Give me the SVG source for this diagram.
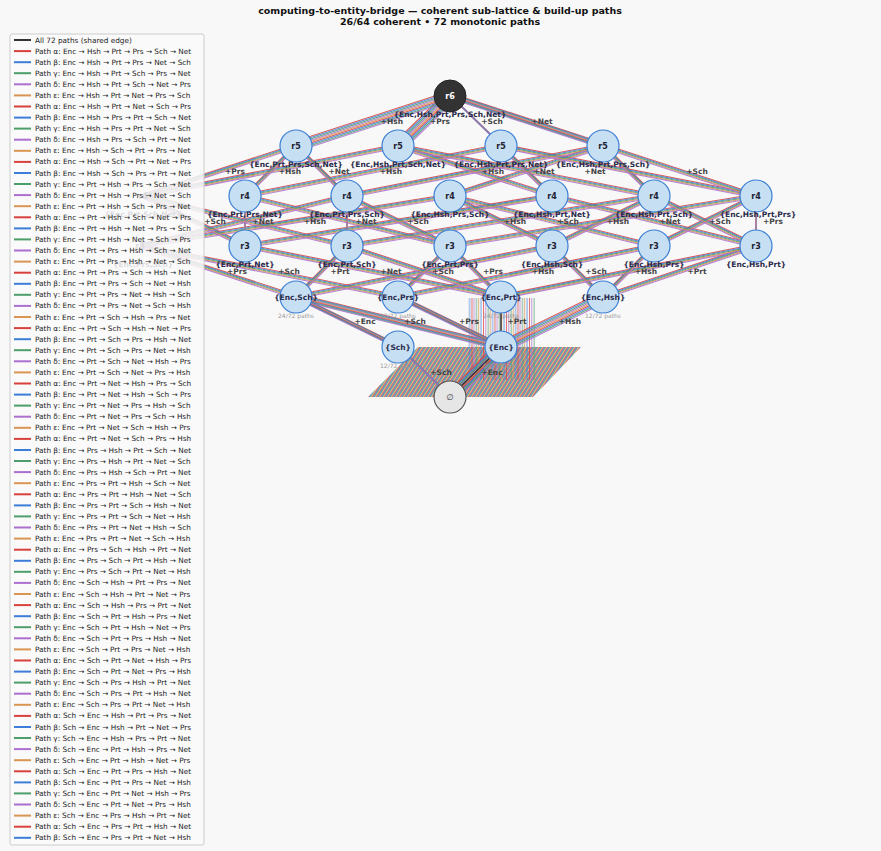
<svg xmlns="http://www.w3.org/2000/svg" xmlns:xlink="http://www.w3.org/1999/xlink" width="881" height="851" viewBox="0 0 881 851">
<style>
text{font-family:"DejaVu Sans","Liberation Sans",sans-serif}
.t{font-size:9.5px;font-weight:bold;fill:#111;text-anchor:middle}
.n{fill:#c7dff2;stroke:#3a7fd5;stroke-width:1.2}
.nl{font-size:8px;font-weight:bold;fill:#223;text-anchor:middle}
.sl{font-size:7.5px;font-weight:bold;fill:#2a2a4a;text-anchor:middle}
.el{font-size:7.5px;font-weight:bold;fill:#444;text-anchor:middle}
.pc{font-size:6px;fill:#999;text-anchor:middle}
.lg{font-size:7.3px;fill:#222}
.a{stroke:#d9413d}.b{stroke:#3b7dd8}.g{stroke:#4c9e6a}.d{stroke:#aa6fcf}.e{stroke:#d99552}.k{stroke:#333}
#E line,#H line{fill:none}
.w1{stroke-width:1.1;opacity:.85}
</style>
<defs>
<pattern id="diag" width="4" height="50" patternUnits="userSpaceOnUse" patternTransform="skewX(-32)">
<rect x="0" width="1" height="50" fill="#d9413d"/><rect x="1" width="1" height="50" fill="#3b7dd8"/><rect x="2" width="1" height="50" fill="#4c9e6a"/><rect x="3" width="1" height="50" fill="#d99552" opacity=".8"/>
</pattern>
<pattern id="vert" width="11.5" height="60" patternUnits="userSpaceOnUse">
<rect x="0" width="0.8" height="60" fill="#d9413d"/><rect x="2.3" width="0.8" height="60" fill="#aa6fcf"/><rect x="4.6" width="0.8" height="60" fill="#4c9e6a"/><rect x="6.9" width="0.8" height="60" fill="#d99552"/><rect x="9.2" width="0.8" height="60" fill="#3b7dd8"/>
</pattern>
<g id="E">
<line x1="245" y1="246" x2="245" y2="196"/><line x1="245" y1="246" x2="552" y2="196"/><line x1="245" y1="246" x2="143" y2="196"/>
<line x1="347" y1="246" x2="347" y2="196"/><line x1="347" y1="246" x2="654" y2="196"/><line x1="347" y1="246" x2="143" y2="196"/>
<line x1="450" y1="246" x2="245" y2="196"/><line x1="450" y1="246" x2="347" y2="196"/><line x1="450" y1="246" x2="756" y2="196"/>
<line x1="552" y1="246" x2="450" y2="196"/><line x1="552" y1="246" x2="654" y2="196"/>
<line x1="654" y1="246" x2="450" y2="196"/><line x1="654" y1="246" x2="756" y2="196"/>
<line x1="756" y1="246" x2="552" y2="196"/><line x1="756" y1="246" x2="654" y2="196"/><line x1="756" y1="246" x2="756" y2="196"/>
<line x1="140" y1="246" x2="347" y2="196"/><line x1="140" y1="246" x2="450" y2="196"/>
<line x1="245" y1="196" x2="296" y2="146"/><line x1="245" y1="196" x2="501" y2="146"/>
<line x1="347" y1="196" x2="296" y2="146"/><line x1="347" y1="196" x2="603" y2="146"/>
<line x1="450" y1="196" x2="603" y2="146"/>
<line x1="552" y1="196" x2="398" y2="146"/><line x1="552" y1="196" x2="501" y2="146"/>
<line x1="654" y1="196" x2="398" y2="146"/><line x1="654" y1="196" x2="603" y2="146"/>
<line x1="756" y1="196" x2="501" y2="146"/><line x1="756" y1="196" x2="603" y2="146"/>
<line x1="143" y1="196" x2="296" y2="146"/><line x1="143" y1="196" x2="398" y2="146"/>
<line x1="296" y1="297" x2="347" y2="246"/><line x1="296" y1="297" x2="552" y2="246"/><line x1="296" y1="297" x2="140" y2="246"/>
<line x1="398" y1="297" x2="450" y2="246"/><line x1="398" y1="297" x2="654" y2="246"/><line x1="398" y1="297" x2="140" y2="246"/>
<line x1="501" y1="297" x2="245" y2="246"/><line x1="501" y1="297" x2="347" y2="246"/><line x1="501" y1="297" x2="450" y2="246"/><line x1="501" y1="297" x2="756" y2="246"/>
<line x1="603" y1="297" x2="552" y2="246"/><line x1="603" y1="297" x2="654" y2="246"/><line x1="603" y1="297" x2="756" y2="246"/>
</g>
<g id="H">
<line x1="450" y1="96" x2="296" y2="146"/><line x1="450" y1="96" x2="398" y2="146"/><line x1="450" y1="96" x2="501" y2="146"/><line x1="450" y1="96" x2="603" y2="146"/>
<line x1="398" y1="347" x2="296" y2="297"/>
<line x1="501" y1="347" x2="296" y2="297"/><line x1="501" y1="347" x2="398" y2="297"/><line x1="501" y1="347" x2="603" y2="297"/>
<line x1="450" y1="397" x2="398" y2="347"/><line x1="450" y1="397" x2="501" y2="347"/>
</g>
</defs>
<rect width="881" height="851" fill="#f8f8f8"/>
<text class="t" x="440" y="14">computing-to-entity-bridge — coherent sub-lattice &amp; build-up paths</text>
<text class="t" x="440" y="25">26/64 coherent  •  72 monotonic paths</text>
<polygon points="418,347 581,347 533,397 368,397" fill="url(#diag)" opacity=".8"/>
<rect x="468" y="298" width="67" height="82" fill="url(#vert)" opacity=".9"/>
<g id="connectors">
<use xlink:href="#E" class="a w1" transform="translate(0,-2)"/>
<use xlink:href="#E" class="b w1" transform="translate(0,-1)"/>
<use xlink:href="#E" class="g w1"/>
<use xlink:href="#E" class="e w1" transform="translate(0,1)"/>
<use xlink:href="#E" class="d w1" transform="translate(0,2)"/>
<use xlink:href="#H" class="a w1" transform="translate(-3,-4)"/>
<use xlink:href="#H" class="b w1" transform="translate(-2,-3)"/>
<use xlink:href="#H" class="g w1" transform="translate(-1,-2)"/>
<use xlink:href="#H" class="d w1" transform="translate(0,-1)"/>
<use xlink:href="#H" class="e w1" transform="translate(1,0)"/>
<use xlink:href="#H" class="a w1" transform="translate(2,1)"/>
<use xlink:href="#H" class="b w1" transform="translate(3,2)"/>
<use xlink:href="#H" class="g w1" transform="translate(4,3)"/>
<use xlink:href="#H" class="d w1" transform="translate(5,4)"/>
<line x1="501" y1="347" x2="501" y2="297" class="k" stroke-width="1.5"/>
<line x1="450" y1="397" x2="501" y2="347" class="k" stroke-width="1.5"/>
</g>
<g id="edge-labels">
<text class="el" x="392" y="124">+Hsh</text><text class="el" x="440" y="124">+Prs</text><text class="el" x="492" y="124">+Sch</text><text class="el" x="542" y="124">+Net</text>
<text class="el" x="235" y="174">+Prs</text><text class="el" x="290" y="174">+Hsh</text><text class="el" x="339" y="174">+Net</text><text class="el" x="391" y="174">+Hsh</text><text class="el" x="493" y="174">+Hsh</text><text class="el" x="544" y="174">+Net</text><text class="el" x="595" y="174">+Net</text><text class="el" x="697" y="174">+Sch</text>
<text class="el" x="215" y="224">+Sch</text><text class="el" x="263" y="224">+Net</text><text class="el" x="315" y="224">+Hsh</text><text class="el" x="366" y="224">+Net</text><text class="el" x="418" y="224">+Sch</text><text class="el" x="515" y="224">+Hsh</text><text class="el" x="568" y="224">+Sch</text><text class="el" x="618" y="224">+Hsh</text><text class="el" x="670" y="224">+Net</text><text class="el" x="720" y="224">+Sch</text><text class="el" x="773" y="224">+Prs</text>
<text class="el" x="237" y="274">+Prs</text><text class="el" x="289" y="274">+Sch</text><text class="el" x="340" y="274">+Prt</text><text class="el" x="391" y="274">+Net</text><text class="el" x="443" y="274">+Sch</text><text class="el" x="493" y="274">+Prs</text><text class="el" x="543" y="274">+Hsh</text><text class="el" x="596" y="274">+Sch</text><text class="el" x="646" y="274">+Hsh</text><text class="el" x="697" y="274">+Prt</text>
<text class="el" x="365" y="324">+Enc</text><text class="el" x="415" y="324">+Sch</text><text class="el" x="469" y="324">+Prs</text><text class="el" x="517" y="324">+Prt</text><text class="el" x="570" y="324">+Hsh</text>
<text class="el" x="441" y="375">+Sch</text><text class="el" x="492" y="375">+Enc</text>
</g>
<g id="hidden-nodes">
<text class="nl" x="143" y="199">r4</text><text class="sl" x="143" y="217">{Enc,Prt,Sch,Net}</text>
<text class="nl" x="140" y="249">r3</text><text class="sl" x="143" y="267">{Enc,Prs,Sch}</text>
</g>
<g id="n-r6"><circle cx="450" cy="96" r="16" fill="#333" stroke="#222"/><text class="nl" x="450" y="99" style="fill:#fff">r6</text><text class="sl" x="450" y="117">{Enc,Hsh,Prt,Prs,Sch,Net}</text></g>
<g id="n-r5a"><circle class="n" cx="296" cy="146" r="16"/><text class="nl" x="296" y="149">r5</text><text class="sl" x="296" y="167">{Enc,Prt,Prs,Sch,Net}</text></g>
<g id="n-r5b"><circle class="n" cx="398" cy="146" r="16"/><text class="nl" x="398" y="149">r5</text><text class="sl" x="398" y="167">{Enc,Hsh,Prt,Sch,Net}</text></g>
<g id="n-r5c"><circle class="n" cx="501" cy="146" r="16"/><text class="nl" x="501" y="149">r5</text><text class="sl" x="501" y="167">{Enc,Hsh,Prt,Prs,Net}</text></g>
<g id="n-r5d"><circle class="n" cx="603" cy="146" r="16"/><text class="nl" x="603" y="149">r5</text><text class="sl" x="603" y="167">{Enc,Hsh,Prt,Prs,Sch}</text></g>
<g id="n-r4a"><circle class="n" cx="245" cy="196" r="16"/><text class="nl" x="245" y="199">r4</text><text class="sl" x="245" y="217">{Enc,Prt,Prs,Net}</text></g>
<g id="n-r4b"><circle class="n" cx="347" cy="196" r="16"/><text class="nl" x="347" y="199">r4</text><text class="sl" x="347" y="217">{Enc,Prt,Prs,Sch}</text></g>
<g id="n-r4c"><circle class="n" cx="450" cy="196" r="16"/><text class="nl" x="450" y="199">r4</text><text class="sl" x="450" y="217">{Enc,Hsh,Prs,Sch}</text></g>
<g id="n-r4d"><circle class="n" cx="552" cy="196" r="16"/><text class="nl" x="552" y="199">r4</text><text class="sl" x="552" y="217">{Enc,Hsh,Prt,Net}</text></g>
<g id="n-r4e"><circle class="n" cx="654" cy="196" r="16"/><text class="nl" x="654" y="199">r4</text><text class="sl" x="654" y="217">{Enc,Hsh,Prt,Sch}</text></g>
<g id="n-r4f"><circle class="n" cx="756" cy="196" r="16"/><text class="nl" x="756" y="199">r4</text><text class="sl" x="758" y="217">{Enc,Hsh,Prt,Prs}</text></g>
<g id="n-r3a"><circle class="n" cx="245" cy="246" r="16"/><text class="nl" x="245" y="249">r3</text><text class="sl" x="245" y="267">{Enc,Prt,Net}</text></g>
<g id="n-r3b"><circle class="n" cx="347" cy="246" r="16"/><text class="nl" x="347" y="249">r3</text><text class="sl" x="347" y="267">{Enc,Prt,Sch}</text></g>
<g id="n-r3c"><circle class="n" cx="450" cy="246" r="16"/><text class="nl" x="450" y="249">r3</text><text class="sl" x="450" y="267">{Enc,Prt,Prs}</text></g>
<g id="n-r3d"><circle class="n" cx="552" cy="246" r="16"/><text class="nl" x="552" y="249">r3</text><text class="sl" x="552" y="267">{Enc,Hsh,Sch}</text></g>
<g id="n-r3e"><circle class="n" cx="654" cy="246" r="16"/><text class="nl" x="654" y="249">r3</text><text class="sl" x="654" y="267">{Enc,Hsh,Prs}</text></g>
<g id="n-r3f"><circle class="n" cx="756" cy="246" r="16"/><text class="nl" x="756" y="249">r3</text><text class="sl" x="756" y="267">{Enc,Hsh,Prt}</text></g>
<g id="n-encsch"><circle class="n" cx="296" cy="297" r="16"/><text class="sl" x="296" y="300">{Enc,Sch}</text><text class="pc" x="296" y="318">24/72 paths</text></g>
<g id="n-encprs"><circle class="n" cx="398" cy="297" r="16"/><text class="sl" x="398" y="300">{Enc,Prs}</text><text class="pc" x="398" y="318">12/72 paths</text></g>
<g id="n-encprt"><circle class="n" cx="501" cy="297" r="16"/><text class="sl" x="501" y="300">{Enc,Prt}</text><text class="pc" x="501" y="318">24/72 paths</text></g>
<g id="n-enchsh"><circle class="n" cx="603" cy="297" r="16"/><text class="sl" x="603" y="300">{Enc,Hsh}</text><text class="pc" x="603" y="318">12/72 paths</text></g>
<g id="n-sch"><circle class="n" cx="398" cy="347" r="16"/><text class="sl" x="398" y="350">{Sch}</text><text class="pc" x="398" y="368">12/72 paths</text></g>
<g id="n-enc"><circle class="n" cx="501" cy="347" r="16"/><text class="sl" x="501" y="350">{Enc}</text><text class="pc" x="501" y="368">60/72 paths</text></g>
<g id="n-empty"><circle cx="450" cy="397" r="16" fill="#e6e6e6" stroke="#555" stroke-width="1.2"/><text class="nl" x="450" y="400" style="font-weight:normal">∅</text></g>
<g id="legend">
<rect x="10" y="34" width="194" height="811" rx="2" fill="#fafafa" fill-opacity=".85" stroke="#ccc"/>
<line x1="14" y1="40" x2="31" y2="40" stroke="#333" stroke-width="2"/><text class="lg" x="35" y="42.5">All 72 paths (shared edge)</text>
<g stroke-width="2">
<line x1="14" x2="31" y1="51.1" y2="51.1" class="a"/><line x1="14" x2="31" y1="62.2" y2="62.2" class="b"/><line x1="14" x2="31" y1="73.2" y2="73.2" class="g"/><line x1="14" x2="31" y1="84.3" y2="84.3" class="d"/><line x1="14" x2="31" y1="95.4" y2="95.4" class="e"/>
<line x1="14" x2="31" y1="106.5" y2="106.5" class="a"/><line x1="14" x2="31" y1="117.6" y2="117.6" class="b"/><line x1="14" x2="31" y1="128.6" y2="128.6" class="g"/><line x1="14" x2="31" y1="139.7" y2="139.7" class="d"/><line x1="14" x2="31" y1="150.8" y2="150.8" class="e"/>
<line x1="14" x2="31" y1="161.9" y2="161.9" class="a"/><line x1="14" x2="31" y1="173" y2="173" class="b"/><line x1="14" x2="31" y1="184" y2="184" class="g"/><line x1="14" x2="31" y1="195.1" y2="195.1" class="d"/><line x1="14" x2="31" y1="206.2" y2="206.2" class="e"/>
<line x1="14" x2="31" y1="217.3" y2="217.3" class="a"/><line x1="14" x2="31" y1="228.4" y2="228.4" class="b"/><line x1="14" x2="31" y1="239.4" y2="239.4" class="g"/><line x1="14" x2="31" y1="250.5" y2="250.5" class="d"/><line x1="14" x2="31" y1="261.6" y2="261.6" class="e"/>
<line x1="14" x2="31" y1="272.7" y2="272.7" class="a"/><line x1="14" x2="31" y1="283.8" y2="283.8" class="b"/><line x1="14" x2="31" y1="294.8" y2="294.8" class="g"/><line x1="14" x2="31" y1="305.9" y2="305.9" class="d"/><line x1="14" x2="31" y1="317" y2="317" class="e"/>
<line x1="14" x2="31" y1="328.1" y2="328.1" class="a"/><line x1="14" x2="31" y1="339.2" y2="339.2" class="b"/><line x1="14" x2="31" y1="350.2" y2="350.2" class="g"/><line x1="14" x2="31" y1="361.3" y2="361.3" class="d"/><line x1="14" x2="31" y1="372.4" y2="372.4" class="e"/>
<line x1="14" x2="31" y1="383.5" y2="383.5" class="a"/><line x1="14" x2="31" y1="394.6" y2="394.6" class="b"/><line x1="14" x2="31" y1="405.6" y2="405.6" class="g"/><line x1="14" x2="31" y1="416.7" y2="416.7" class="d"/><line x1="14" x2="31" y1="427.8" y2="427.8" class="e"/>
<line x1="14" x2="31" y1="438.9" y2="438.9" class="a"/><line x1="14" x2="31" y1="450" y2="450" class="b"/><line x1="14" x2="31" y1="461" y2="461" class="g"/><line x1="14" x2="31" y1="472.1" y2="472.1" class="d"/><line x1="14" x2="31" y1="483.2" y2="483.2" class="e"/>
<line x1="14" x2="31" y1="494.3" y2="494.3" class="a"/><line x1="14" x2="31" y1="505.4" y2="505.4" class="b"/><line x1="14" x2="31" y1="516.4" y2="516.4" class="g"/><line x1="14" x2="31" y1="527.5" y2="527.5" class="d"/><line x1="14" x2="31" y1="538.6" y2="538.6" class="e"/>
<line x1="14" x2="31" y1="549.7" y2="549.7" class="a"/><line x1="14" x2="31" y1="560.8" y2="560.8" class="b"/><line x1="14" x2="31" y1="571.8" y2="571.8" class="g"/><line x1="14" x2="31" y1="582.9" y2="582.9" class="d"/><line x1="14" x2="31" y1="594" y2="594" class="e"/>
<line x1="14" x2="31" y1="605.1" y2="605.1" class="a"/><line x1="14" x2="31" y1="616.2" y2="616.2" class="b"/><line x1="14" x2="31" y1="627.2" y2="627.2" class="g"/><line x1="14" x2="31" y1="638.3" y2="638.3" class="d"/><line x1="14" x2="31" y1="649.4" y2="649.4" class="e"/>
<line x1="14" x2="31" y1="660.5" y2="660.5" class="a"/><line x1="14" x2="31" y1="671.6" y2="671.6" class="b"/><line x1="14" x2="31" y1="682.6" y2="682.6" class="g"/><line x1="14" x2="31" y1="693.7" y2="693.7" class="d"/><line x1="14" x2="31" y1="704.8" y2="704.8" class="e"/>
<line x1="14" x2="31" y1="715.9" y2="715.9" class="a"/><line x1="14" x2="31" y1="727" y2="727" class="b"/><line x1="14" x2="31" y1="738" y2="738" class="g"/><line x1="14" x2="31" y1="749.1" y2="749.1" class="d"/><line x1="14" x2="31" y1="760.2" y2="760.2" class="e"/>
<line x1="14" x2="31" y1="771.3" y2="771.3" class="a"/><line x1="14" x2="31" y1="782.4" y2="782.4" class="b"/><line x1="14" x2="31" y1="793.4" y2="793.4" class="g"/><line x1="14" x2="31" y1="804.5" y2="804.5" class="d"/><line x1="14" x2="31" y1="815.6" y2="815.6" class="e"/>
<line x1="14" x2="31" y1="826.7" y2="826.7" class="a"/><line x1="14" x2="31" y1="837.8" y2="837.8" class="b"/>
</g>
<text class="lg" x="35" y="53.6">Path α: Enc → Hsh → Prt → Prs → Sch → Net</text>
<text class="lg" x="35" y="64.7">Path β: Enc → Hsh → Prt → Prs → Net → Sch</text>
<text class="lg" x="35" y="75.7">Path γ: Enc → Hsh → Prt → Sch → Prs → Net</text>
<text class="lg" x="35" y="86.8">Path δ: Enc → Hsh → Prt → Sch → Net → Prs</text>
<text class="lg" x="35" y="97.9">Path ε: Enc → Hsh → Prt → Net → Prs → Sch</text>
<text class="lg" x="35" y="109">Path α: Enc → Hsh → Prt → Net → Sch → Prs</text>
<text class="lg" x="35" y="120.1">Path β: Enc → Hsh → Prs → Prt → Sch → Net</text>
<text class="lg" x="35" y="131.1">Path γ: Enc → Hsh → Prs → Prt → Net → Sch</text>
<text class="lg" x="35" y="142.2">Path δ: Enc → Hsh → Prs → Sch → Prt → Net</text>
<text class="lg" x="35" y="153.3">Path ε: Enc → Hsh → Sch → Prt → Prs → Net</text>
<text class="lg" x="35" y="164.4">Path α: Enc → Hsh → Sch → Prt → Net → Prs</text>
<text class="lg" x="35" y="175.5">Path β: Enc → Hsh → Sch → Prs → Prt → Net</text>
<text class="lg" x="35" y="186.5">Path γ: Enc → Prt → Hsh → Prs → Sch → Net</text>
<text class="lg" x="35" y="197.6">Path δ: Enc → Prt → Hsh → Prs → Net → Sch</text>
<text class="lg" x="35" y="208.7">Path ε: Enc → Prt → Hsh → Sch → Prs → Net</text>
<text class="lg" x="35" y="219.8">Path α: Enc → Prt → Hsh → Sch → Net → Prs</text>
<text class="lg" x="35" y="230.9">Path β: Enc → Prt → Hsh → Net → Prs → Sch</text>
<text class="lg" x="35" y="241.9">Path γ: Enc → Prt → Hsh → Net → Sch → Prs</text>
<text class="lg" x="35" y="253">Path δ: Enc → Prt → Prs → Hsh → Sch → Net</text>
<text class="lg" x="35" y="264.1">Path ε: Enc → Prt → Prs → Hsh → Net → Sch</text>
<text class="lg" x="35" y="275.2">Path α: Enc → Prt → Prs → Sch → Hsh → Net</text>
<text class="lg" x="35" y="286.3">Path β: Enc → Prt → Prs → Sch → Net → Hsh</text>
<text class="lg" x="35" y="297.3">Path γ: Enc → Prt → Prs → Net → Hsh → Sch</text>
<text class="lg" x="35" y="308.4">Path δ: Enc → Prt → Prs → Net → Sch → Hsh</text>
<text class="lg" x="35" y="319.5">Path ε: Enc → Prt → Sch → Hsh → Prs → Net</text>
<text class="lg" x="35" y="330.6">Path α: Enc → Prt → Sch → Hsh → Net → Prs</text>
<text class="lg" x="35" y="341.7">Path β: Enc → Prt → Sch → Prs → Hsh → Net</text>
<text class="lg" x="35" y="352.7">Path γ: Enc → Prt → Sch → Prs → Net → Hsh</text>
<text class="lg" x="35" y="363.8">Path δ: Enc → Prt → Sch → Net → Hsh → Prs</text>
<text class="lg" x="35" y="374.9">Path ε: Enc → Prt → Sch → Net → Prs → Hsh</text>
<text class="lg" x="35" y="386">Path α: Enc → Prt → Net → Hsh → Prs → Sch</text>
<text class="lg" x="35" y="397.1">Path β: Enc → Prt → Net → Hsh → Sch → Prs</text>
<text class="lg" x="35" y="408.1">Path γ: Enc → Prt → Net → Prs → Hsh → Sch</text>
<text class="lg" x="35" y="419.2">Path δ: Enc → Prt → Net → Prs → Sch → Hsh</text>
<text class="lg" x="35" y="430.3">Path ε: Enc → Prt → Net → Sch → Hsh → Prs</text>
<text class="lg" x="35" y="441.4">Path α: Enc → Prt → Net → Sch → Prs → Hsh</text>
<text class="lg" x="35" y="452.5">Path β: Enc → Prs → Hsh → Prt → Sch → Net</text>
<text class="lg" x="35" y="463.5">Path γ: Enc → Prs → Hsh → Prt → Net → Sch</text>
<text class="lg" x="35" y="474.6">Path δ: Enc → Prs → Hsh → Sch → Prt → Net</text>
<text class="lg" x="35" y="485.7">Path ε: Enc → Prs → Prt → Hsh → Sch → Net</text>
<text class="lg" x="35" y="496.8">Path α: Enc → Prs → Prt → Hsh → Net → Sch</text>
<text class="lg" x="35" y="507.9">Path β: Enc → Prs → Prt → Sch → Hsh → Net</text>
<text class="lg" x="35" y="518.9">Path γ: Enc → Prs → Prt → Sch → Net → Hsh</text>
<text class="lg" x="35" y="530">Path δ: Enc → Prs → Prt → Net → Hsh → Sch</text>
<text class="lg" x="35" y="541.1">Path ε: Enc → Prs → Prt → Net → Sch → Hsh</text>
<text class="lg" x="35" y="552.2">Path α: Enc → Prs → Sch → Hsh → Prt → Net</text>
<text class="lg" x="35" y="563.3">Path β: Enc → Prs → Sch → Prt → Hsh → Net</text>
<text class="lg" x="35" y="574.3">Path γ: Enc → Prs → Sch → Prt → Net → Hsh</text>
<text class="lg" x="35" y="585.4">Path δ: Enc → Sch → Hsh → Prt → Prs → Net</text>
<text class="lg" x="35" y="596.5">Path ε: Enc → Sch → Hsh → Prt → Net → Prs</text>
<text class="lg" x="35" y="607.6">Path α: Enc → Sch → Hsh → Prs → Prt → Net</text>
<text class="lg" x="35" y="618.7">Path β: Enc → Sch → Prt → Hsh → Prs → Net</text>
<text class="lg" x="35" y="629.7">Path γ: Enc → Sch → Prt → Hsh → Net → Prs</text>
<text class="lg" x="35" y="640.8">Path δ: Enc → Sch → Prt → Prs → Hsh → Net</text>
<text class="lg" x="35" y="651.9">Path ε: Enc → Sch → Prt → Prs → Net → Hsh</text>
<text class="lg" x="35" y="663">Path α: Enc → Sch → Prt → Net → Hsh → Prs</text>
<text class="lg" x="35" y="674.1">Path β: Enc → Sch → Prt → Net → Prs → Hsh</text>
<text class="lg" x="35" y="685.1">Path γ: Enc → Sch → Prs → Hsh → Prt → Net</text>
<text class="lg" x="35" y="696.2">Path δ: Enc → Sch → Prs → Prt → Hsh → Net</text>
<text class="lg" x="35" y="707.3">Path ε: Enc → Sch → Prs → Prt → Net → Hsh</text>
<text class="lg" x="35" y="718.4">Path α: Sch → Enc → Hsh → Prt → Prs → Net</text>
<text class="lg" x="35" y="729.5">Path β: Sch → Enc → Hsh → Prt → Net → Prs</text>
<text class="lg" x="35" y="740.5">Path γ: Sch → Enc → Hsh → Prs → Prt → Net</text>
<text class="lg" x="35" y="751.6">Path δ: Sch → Enc → Prt → Hsh → Prs → Net</text>
<text class="lg" x="35" y="762.7">Path ε: Sch → Enc → Prt → Hsh → Net → Prs</text>
<text class="lg" x="35" y="773.8">Path α: Sch → Enc → Prt → Prs → Hsh → Net</text>
<text class="lg" x="35" y="784.9">Path β: Sch → Enc → Prt → Prs → Net → Hsh</text>
<text class="lg" x="35" y="795.9">Path γ: Sch → Enc → Prt → Net → Hsh → Prs</text>
<text class="lg" x="35" y="807">Path δ: Sch → Enc → Prt → Net → Prs → Hsh</text>
<text class="lg" x="35" y="818.1">Path ε: Sch → Enc → Prs → Hsh → Prt → Net</text>
<text class="lg" x="35" y="829.2">Path α: Sch → Enc → Prs → Prt → Hsh → Net</text>
<text class="lg" x="35" y="840.3">Path β: Sch → Enc → Prs → Prt → Net → Hsh</text>
</g>
</svg>
